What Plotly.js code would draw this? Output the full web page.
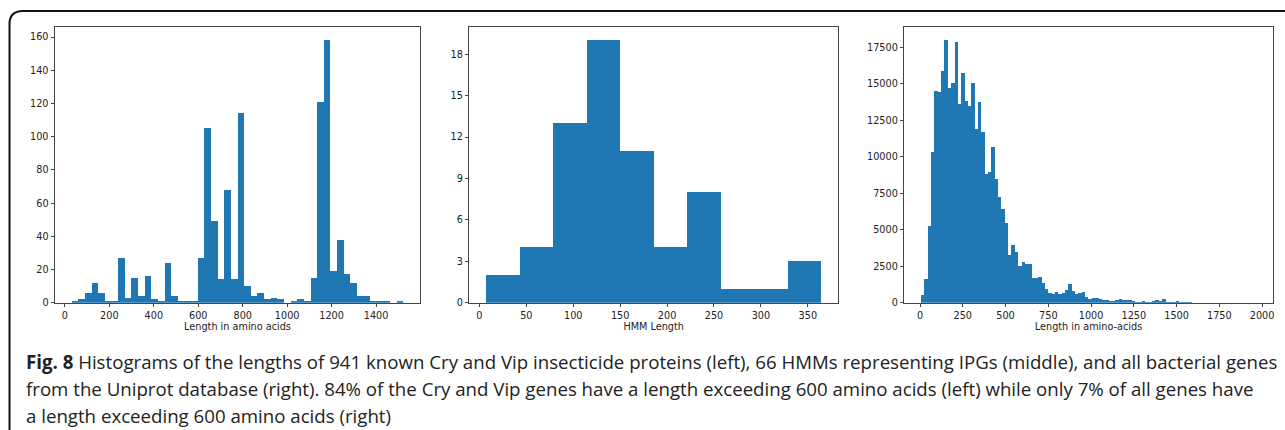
<!DOCTYPE html>
<html>
<head>
<meta charset="utf-8">
<script src="https://cdn.plot.ly/plotly-3.0.1.min.js"></script>
<style>
html,body{margin:0;padding:0;background:#fff;}
#chart{width:1285px;height:430px;}
</style>
</head>
<body>
<div id="chart"></div>
<script>
// ---- Data ----
// Left: lengths of 941 Cry/Vip proteins (50 bins)
const cryBinStart = 30;
const cryBinWidth = 29.86;
const cryCounts = [1,2,6,12,6,1,1,27,3,15,
  4,16,2,1,24,4,1,1,1,27,
  105,49,14,68,14,114,10,4,6,2,
  3,2,0,1,2,1,15,121,158,19,
  38,17,12,4,4,1,1,1,0,1];

// Middle: HMM lengths (10 bins)
const hmmBinStart = 7.1;
const hmmBinWidth = 35.72;
const hmmCounts = [2,4,13,19,11,4,8,1,1,3];

// Right: all bacterial genes from Uniprot (100 bins)
const uniBinStart = 6;
const uniBinWidth = 19.58;
const uniCounts = [500,1600,5280,10350,14530,14460,15900,17970,14690,15080,
  17840,13620,15760,13840,13480,15030,11880,13730,11720,8820,
  8980,10690,8500,7220,6440,5440,3270,3950,3450,2510,
  2760,2670,2630,1670,1670,1760,1350,910,690,570,
  750,600,660,870,1260,820,620,660,730,390,
  270,300,340,230,180,160,110,90,180,220,
  180,160,170,110,70,80,130,70,80,150,
  210,140,250,70,50,50,110,60,30,20,
  15,10,10,8,5,5,4,3,3,2,
  2,1,1,1,0,0,1,0,0,1];

const xTitles = ["Length in amino acids", "HMM Length", "Length in amino-acids"];
const captionBold = "Fig. 8";
const captionLines = [
  " Histograms of the lengths of 941 known Cry and Vip insecticide proteins (left), 66 HMMs representing IPGs (middle), and all bacterial genes",
  "from the Uniprot database (right). 84% of the Cry and Vip genes have a length exceeding 600 amino acids (left) while only 7% of all genes have",
  "a length exceeding 600 amino acids (right)"
];

// ---- helpers ----
const W = 1285, H = 430;
const px = v => v / W;
const py = v => 1 - v / H;
function centers(start, width, counts){ return counts.map((_, i) => start + width * (i + 0.5)); }

const blue = '#1f77b4';
function barTrace(start, width, counts, xa, ya){
  return {type:'bar', x: centers(start, width, counts), y: counts, width: width,
    marker:{color: blue, line:{width:0}}, xaxis: xa, yaxis: ya, hoverinfo:'x+y'};
}

const data = [
  barTrace(cryBinStart, cryBinWidth, cryCounts, 'x', 'y'),
  barTrace(hmmBinStart, hmmBinWidth, hmmCounts, 'x2', 'y2'),
  barTrace(uniBinStart, uniBinWidth, uniCounts, 'x3', 'y3')
];

function rng(start, width, n){ const a = start, b = start + width * n, m = 0.05 * (b - a); return [a - m, b + m]; }
function ymax(counts){ return Math.max(...counts) * 1.05; }

const tickFont = {family:'DejaVu Sans', size:9.7, color:'#222'};
const titleFont = {family:'DejaVu Sans', size:9.7, color:'#222'};
function xax(domain, range, dtick, title, anchor){
  return {domain: domain, range: range, dtick: dtick, tick0: 0, anchor: anchor,
    showgrid:false, zeroline:false, showline:true, mirror:true, linecolor:'#444', linewidth:1,
    ticks:'outside', ticklen:3.5, tickcolor:'#444', tickwidth:1, tickfont: tickFont,
    tickformat:'d', automargin:false, fixedrange:true,
    title:{text:title, font:titleFont, standoff:3}};
}
function yax(domain, range, dtick, anchor){
  return {domain: domain, range: range, dtick: dtick, tick0: 0, anchor: anchor,
    showgrid:false, zeroline:false, showline:true, mirror:true, linecolor:'#444', linewidth:1,
    ticks:'outside', ticklen:3.5, tickcolor:'#444', tickwidth:1, tickfont: tickFont,
    tickformat:'d', automargin:false, fixedrange:true};
}

const yDom = [py(302.7), py(27.3)];

// caption font size fit
const cv = document.createElement('canvas').getContext('2d');
const fam = '"Open Sans"';
cv.font = 'bold 100px ' + fam; const wb = cv.measureText(captionBold).width;
cv.font = '100px ' + fam; const wr = cv.measureText(captionLines[0]).width;
const capSize = Math.min(20, 100 * (1277 - 25) / (wb + wr));

const capY = [361, 388, 415];
const annotations = captionLines.map((t, i) => ({
  xref:'paper', yref:'paper', x: px(24), y: py(capY[i]), xanchor:'left', yanchor:'middle',
  text: (i === 0 ? '<b>' + captionBold + '</b>' : '') + t, showarrow:false,
  font:{family:'Open Sans', size: capSize, color:'#222'}
}));

const border = 'M ' + px(9.5) + ' ' + py(430) + ' L ' + px(9.5) + ' ' + py(24) +
  ' Q ' + px(9.5) + ' ' + py(11) + ' ' + px(23) + ' ' + py(11) + ' L ' + px(1285) + ' ' + py(11);

const layout = {
  width: W, height: H, margin:{l:0,r:0,t:0,b:0}, paper_bgcolor:'#fff', plot_bgcolor:'#fff',
  showlegend:false, bargap:0,
  xaxis: xax([px(55), px(420)], rng(cryBinStart, cryBinWidth, cryCounts.length), 200, xTitles[0], 'y'),
  yaxis: yax(yDom, [0, ymax(cryCounts)], 20, 'x'),
  xaxis2: xax([px(469.3), px(838)], rng(hmmBinStart, hmmBinWidth, hmmCounts.length), 50, xTitles[1], 'y2'),
  yaxis2: yax(yDom, [0, ymax(hmmCounts)], 3, 'x2'),
  xaxis3: xax([px(904.3), px(1272.7)], rng(uniBinStart, uniBinWidth, uniCounts.length), 250, xTitles[2], 'y3'),
  yaxis3: yax(yDom, [0, ymax(uniCounts)], 2500, 'x3'),
  annotations: annotations,
  shapes: [{type:'path', xref:'paper', yref:'paper', path: border, line:{color:'#111', width:2}}]
};

Plotly.newPlot('chart', data, layout, {staticPlot:true, displayModeBar:false});
</script>
</body>
</html>
